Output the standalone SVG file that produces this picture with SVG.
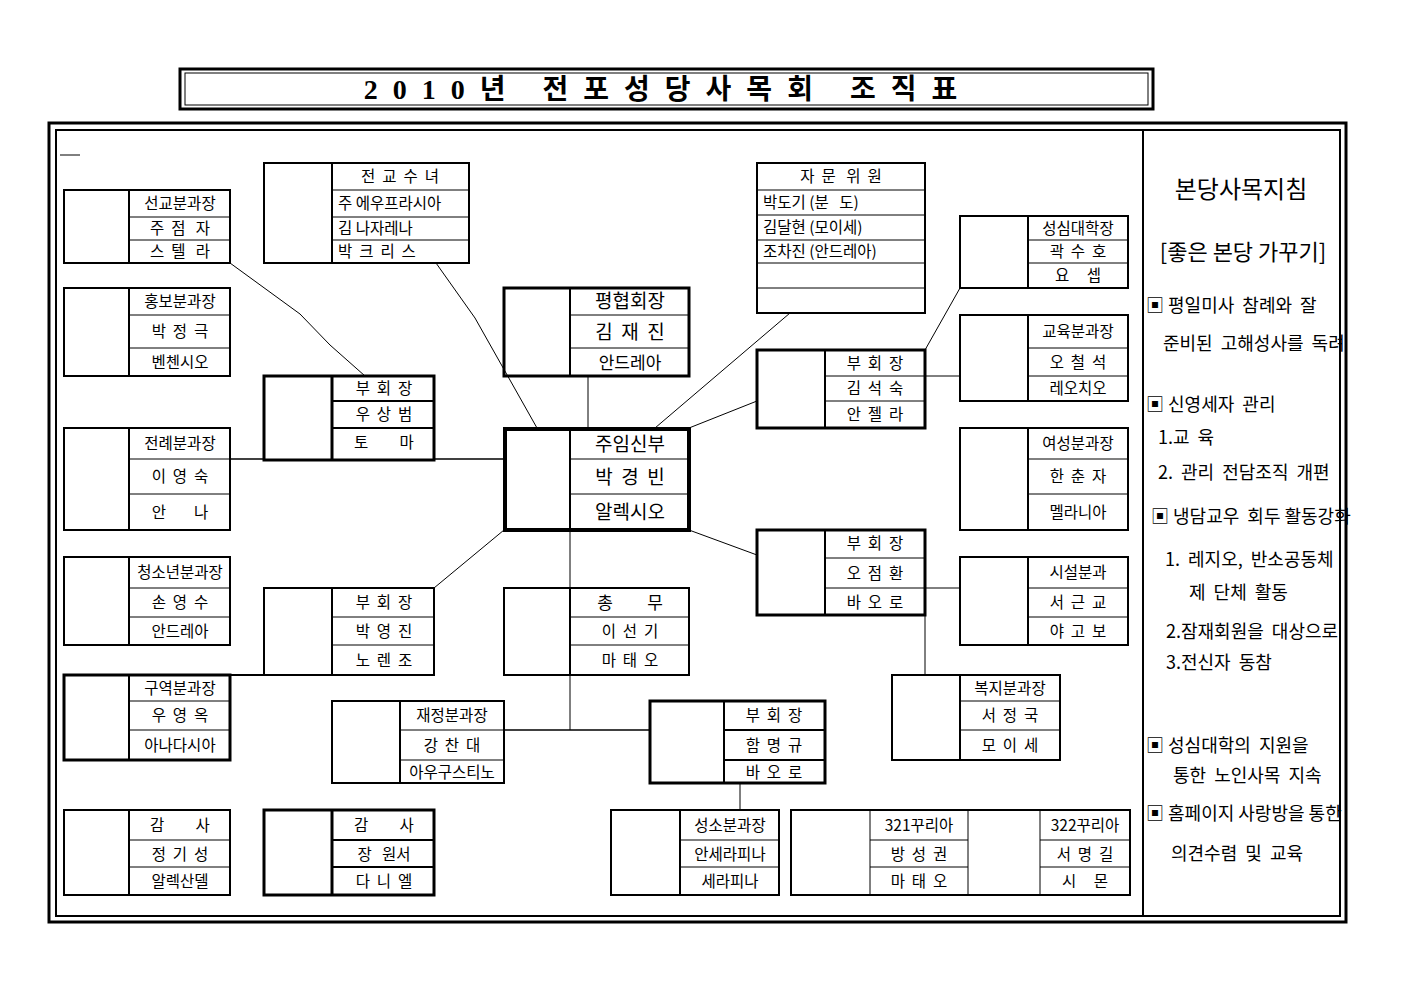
<svg xmlns="http://www.w3.org/2000/svg" width="1403" height="992" viewBox="0 0 1403 992">
<style>
rect,line,polyline{fill:none;stroke:#000}
.b{stroke-width:2}
.k{stroke-width:3}
.kk{stroke-width:4}
.r{stroke-width:1.5}
text{font-family:"Noto Sans CJK KR","Noto Sans",sans-serif;font-size:15.5px;fill:#000;text-anchor:middle;white-space:pre}
.l{text-anchor:start}
.big{font-size:19px}
.p{font-size:18px;text-anchor:start}
.c{stroke-width:1}
</style>
<rect width="1403" height="992" style="fill:#fff;stroke:none"/>
<g id="title">
<rect x="180" y="69" width="973" height="40" class="k"/>
<rect x="185" y="73" width="963" height="32" class="c"/>
<text x="668" y="99" style="font-size:28px;font-weight:bold;letter-spacing:15px;font-family:'Liberation Serif','Noto Sans CJK KR',serif">2010년 전포성당사목회 조직표</text>
</g>
<g id="frame">
<rect x="49" y="123" width="1297" height="799" class="k"/>
<rect x="56" y="130" width="1284" height="786" class="b"/>
<line x1="1143" y1="130" x2="1143" y2="916" class="b"/>
<line x1="60" y1="155" x2="80" y2="155" class="c"/>
</g>
<g id="connectors" class="c">
<polyline points="230,263 300,314 330,345 365,376" class="c"/>
<polyline points="436,263 475,318 537,428" class="c"/>
<line x1="790" y1="313" x2="655" y2="428" class="c"/>
<line x1="588" y1="376" x2="588" y2="428" class="c"/>
<line x1="434" y1="459" x2="504" y2="459" class="r"/>
<line x1="230" y1="459" x2="264" y2="459" class="r"/>
<line x1="757" y1="401" x2="689" y2="428" class="c"/>
<line x1="925" y1="350" x2="960" y2="288" class="c"/>
<line x1="925" y1="376" x2="960" y2="376" class="c"/>
<line x1="689" y1="530" x2="757" y2="555" class="c"/>
<line x1="504" y1="530" x2="434" y2="588" class="c"/>
<line x1="570" y1="530" x2="570" y2="588" class="c"/>
<line x1="570" y1="675" x2="570" y2="730" class="c"/>
<line x1="504" y1="730" x2="650" y2="730" class="r"/>
<line x1="925" y1="588" x2="960" y2="588" class="c"/>
<line x1="925" y1="615" x2="925" y2="675" class="c"/>
<line x1="230" y1="675" x2="264" y2="675" class="b"/>
<line x1="740" y1="783" x2="740" y2="810" class="c"/>
</g>
<g id="n-seongyo"><rect x="64" y="190" width="166" height="73" class="b"/><line x1="129" y1="190" x2="129" y2="263" class="b"/><line x1="129" y1="217" x2="230" y2="217" class="c"/><line x1="129" y1="240" x2="230" y2="240" class="c"/>
<text x="180" y="209">선교분과장</text><text x="180" y="234">주  점   자</text><text x="180" y="257">스  텔   라</text></g>
<g id="n-sunyeo"><rect x="264" y="163" width="205" height="100" class="b"/><line x1="332" y1="163" x2="332" y2="263" class="b"/><line x1="332" y1="190" x2="469" y2="190" class="c"/><line x1="332" y1="217" x2="469" y2="217" class="c"/><line x1="332" y1="240" x2="469" y2="240" class="c"/>
<text x="400" y="182">전  교  수  녀</text><text x="338" y="209" class="l">주 에우프라시아</text><text x="338" y="234" class="l">김 나자레나</text><text x="338" y="257" class="l">박  크  리  스</text></g>
<g id="n-jamun"><rect x="757" y="163" width="168" height="150" class="b"/><line x1="757" y1="190" x2="925" y2="190" class="c"/><line x1="757" y1="215" x2="925" y2="215" class="c"/><line x1="757" y1="240" x2="925" y2="240" class="c"/><line x1="757" y1="263" x2="925" y2="263" class="c"/><line x1="757" y1="288" x2="925" y2="288" class="c"/>
<text x="841" y="182">자  문   위  원</text><text x="763" y="208" class="l">박도기 (분   도)</text><text x="763" y="233" class="l">김달현 (모이세)</text><text x="763" y="257" class="l">조차진 (안드레아)</text></g>
<g id="n-seongsim"><rect x="960" y="216" width="168" height="72" class="b"/><line x1="1028" y1="216" x2="1028" y2="288" class="b"/><line x1="1028" y1="240" x2="1128" y2="240" class="c"/><line x1="1028" y1="263" x2="1128" y2="263" class="c"/>
<text x="1078" y="234">성심대학장</text><text x="1078" y="257">곽  수  호</text><text x="1078" y="281">요     셉</text></g>
<g id="n-hongbo"><rect x="64" y="288" width="166" height="88" class="b"/><line x1="129" y1="288" x2="129" y2="376" class="b"/><line x1="129" y1="315" x2="230" y2="315" class="c"/><line x1="129" y1="348" x2="230" y2="348" class="c"/>
<text x="180" y="307">홍보분과장</text><text x="180" y="337">박  정  극</text><text x="180" y="368">벤첸시오</text></g>
<g id="n-pyeonghyeop"><rect x="504" y="288" width="185" height="88" class="k"/><line x1="570" y1="288" x2="570" y2="376" class="b"/><line x1="570" y1="315" x2="689" y2="315" class="c"/><line x1="570" y1="348" x2="689" y2="348" class="c"/>
<text x="630" y="308" class="big">평협회장</text><text x="630" y="339" class="big">김  재  진</text><text x="630" y="369" style="font-size:17px">안드레아</text></g>
<g id="n-bu1"><rect x="264" y="376" width="170" height="84" class="k"/><line x1="332" y1="376" x2="332" y2="460" class="k"/><line x1="332" y1="401" x2="434" y2="401" class="b"/><line x1="332" y1="428" x2="434" y2="428" class="b"/>
<text x="384" y="394">부  회  장</text><text x="384" y="420">우  상  범</text><text x="384" y="448">토         마</text></g>
<g id="n-bu2"><rect x="757" y="350" width="168" height="78" class="k"/><line x1="825" y1="350" x2="825" y2="428" class="b"/><line x1="825" y1="376" x2="925" y2="376" class="c"/><line x1="825" y1="401" x2="925" y2="401" class="c"/>
<text x="875" y="369">부  회  장</text><text x="875" y="394">김  석  숙</text><text x="875" y="420">안  젤  라</text></g>
<g id="n-gyoyuk"><rect x="960" y="315" width="168" height="86" class="b"/><line x1="1028" y1="315" x2="1028" y2="401" class="b"/><line x1="1028" y1="348" x2="1128" y2="348" class="c"/><line x1="1028" y1="376" x2="1128" y2="376" class="c"/>
<text x="1078" y="337">교육분과장</text><text x="1078" y="368">오  철  석</text><text x="1078" y="394">레오치오</text></g>
<g id="n-jeollye"><rect x="64" y="428" width="166" height="102" class="b"/><line x1="129" y1="428" x2="129" y2="530" class="b"/><line x1="129" y1="459" x2="230" y2="459" class="c"/><line x1="129" y1="494" x2="230" y2="494" class="c"/>
<text x="180" y="449">전례분과장</text><text x="180" y="482">이  영  숙</text><text x="180" y="518">안        나</text></g>
<g id="n-jumin"><rect x="505" y="429" width="184" height="101" class="kk"/><line x1="570" y1="429" x2="570" y2="530" class="b"/><line x1="570" y1="459" x2="689" y2="459" class="c"/><line x1="570" y1="494" x2="689" y2="494" class="c"/>
<text x="630" y="451" class="big">주임신부</text><text x="630" y="484" class="big">박  경  빈</text><text x="630" y="519" class="big">알렉시오</text></g>
<g id="n-yeoseong"><rect x="960" y="428" width="168" height="102" class="b"/><line x1="1028" y1="428" x2="1028" y2="530" class="b"/><line x1="1028" y1="459" x2="1128" y2="459" class="c"/><line x1="1028" y1="494" x2="1128" y2="494" class="c"/>
<text x="1078" y="449">여성분과장</text><text x="1078" y="482">한  춘  자</text><text x="1078" y="518">멜라니아</text></g>
<g id="n-bu3"><rect x="757" y="530" width="168" height="85" class="k"/><line x1="825" y1="530" x2="825" y2="615" class="b"/><line x1="825" y1="558" x2="925" y2="558" class="c"/><line x1="825" y1="588" x2="925" y2="588" class="c"/>
<text x="875" y="549">부  회  장</text><text x="875" y="579">오  점  환</text><text x="875" y="608">바  오  로</text></g>
<g id="n-cheongsonyeon"><rect x="64" y="557" width="166" height="88" class="b"/><line x1="129" y1="557" x2="129" y2="645" class="b"/><line x1="129" y1="588" x2="230" y2="588" class="c"/><line x1="129" y1="617" x2="230" y2="617" class="c"/>
<text x="180" y="578">청소년분과장</text><text x="180" y="608">손  영  수</text><text x="180" y="637">안드레아</text></g>
<g id="n-bu4"><rect x="264" y="588" width="170" height="87" class="b"/><line x1="332" y1="588" x2="332" y2="675" class="b"/><line x1="332" y1="617" x2="434" y2="617" class="c"/><line x1="332" y1="645" x2="434" y2="645" class="c"/>
<text x="384" y="608">부  회  장</text><text x="384" y="637">박  영  진</text><text x="384" y="666">노  렌  조</text></g>
<g id="n-chongmu"><rect x="504" y="588" width="185" height="87" class="b"/><line x1="570" y1="588" x2="570" y2="675" class="b"/><line x1="570" y1="617" x2="689" y2="617" class="c"/><line x1="570" y1="645" x2="689" y2="645" class="c"/>
<text x="630" y="609" style="font-size:17px">총         무</text><text x="630" y="637">이  선  기</text><text x="630" y="666">마  태  오</text></g>
<g id="n-siseol"><rect x="960" y="557" width="168" height="88" class="b"/><line x1="1028" y1="557" x2="1028" y2="645" class="b"/><line x1="1028" y1="588" x2="1128" y2="588" class="c"/><line x1="1028" y1="617" x2="1128" y2="617" class="c"/>
<text x="1078" y="578">시설분과</text><text x="1078" y="608">서  근  교</text><text x="1078" y="637">야  고  보</text></g>
<g id="n-guyeok"><rect x="64" y="675" width="166" height="85" class="k"/><line x1="129" y1="675" x2="129" y2="760" class="b"/><line x1="129" y1="701" x2="230" y2="701" class="c"/><line x1="129" y1="730" x2="230" y2="730" class="c"/>
<text x="180" y="694">구역분과장</text><text x="180" y="721">우  영  옥</text><text x="180" y="751">아나다시아</text></g>
<g id="n-jaejeong"><rect x="332" y="701" width="172" height="82" class="b"/><line x1="400" y1="701" x2="400" y2="783" class="b"/><line x1="400" y1="730" x2="504" y2="730" class="c"/><line x1="400" y1="760" x2="504" y2="760" class="c"/>
<text x="452" y="721">재정분과장</text><text x="452" y="751">강  찬  대</text><text x="452" y="778">아우구스티노</text></g>
<g id="n-bu5"><rect x="650" y="701" width="175" height="82" class="k"/><line x1="724" y1="701" x2="724" y2="783" class="b"/><line x1="724" y1="730" x2="825" y2="730" class="b"/><line x1="724" y1="760" x2="825" y2="760" class="b"/>
<text x="774" y="721">부  회  장</text><text x="774" y="751">함  명  규</text><text x="774" y="778">바  오  로</text></g>
<g id="n-bokji"><rect x="892" y="675" width="168" height="85" class="b"/><line x1="960" y1="675" x2="960" y2="760" class="b"/><line x1="960" y1="701" x2="1060" y2="701" class="c"/><line x1="960" y1="730" x2="1060" y2="730" class="c"/>
<text x="1010" y="694">복지분과장</text><text x="1010" y="721">서  정  국</text><text x="1010" y="751">모  이  세</text></g>
<g id="n-gamsa1"><rect x="64" y="810" width="166" height="85" class="b"/><line x1="129" y1="810" x2="129" y2="895" class="b"/><line x1="129" y1="840" x2="230" y2="840" class="c"/><line x1="129" y1="867" x2="230" y2="867" class="c"/>
<text x="180" y="831">감         사</text><text x="180" y="860">정  기  성</text><text x="180" y="887">알렉산델</text></g>
<g id="n-gamsa2"><rect x="264" y="810" width="170" height="85" class="k"/><line x1="332" y1="810" x2="332" y2="895" class="k"/><line x1="332" y1="840" x2="434" y2="840" class="b"/><line x1="332" y1="867" x2="434" y2="867" class="b"/>
<text x="384" y="831">감         사</text><text x="384" y="860">장   원서</text><text x="384" y="887">다  니  엘</text></g>
<g id="n-seongso"><rect x="611" y="810" width="168" height="85" class="b"/><line x1="680" y1="810" x2="680" y2="895" class="b"/><line x1="680" y1="840" x2="779" y2="840" class="c"/><line x1="680" y1="867" x2="779" y2="867" class="c"/>
<text x="730" y="831">성소분과장</text><text x="730" y="860">안세라피나</text><text x="730" y="887">세라피나</text></g>
<g id="n-curia"><rect x="791" y="810" width="339" height="85" class="b"/><line x1="870" y1="810" x2="870" y2="895" class="c"/><line x1="968" y1="810" x2="968" y2="895" class="c"/><line x1="1040" y1="810" x2="1040" y2="895" class="c"/><line x1="870" y1="840" x2="968" y2="840" class="c"/><line x1="870" y1="867" x2="968" y2="867" class="c"/><line x1="1040" y1="840" x2="1130" y2="840" class="c"/><line x1="1040" y1="867" x2="1130" y2="867" class="c"/>
<text x="919" y="831">321꾸리아</text><text x="919" y="860">방  성  권</text><text x="919" y="887">마  태  오</text>
<text x="1085" y="831">322꾸리아</text><text x="1085" y="860">서  명  길</text><text x="1085" y="887">시     몬</text></g>
<g id="panel">
<text x="1241" y="198" style="font-size:24px">본당사목지침</text>
<text x="1243" y="260" style="font-size:22px">[좋은 본당 가꾸기]</text>
<text x="1146" y="312" class="p">▣ 평일미사  참례와  잘</text>
<text x="1163" y="350" class="p">준비된  고해성사를  독려</text>
<text x="1146" y="411" class="p">▣ 신영세자  관리</text>
<text x="1158" y="444" class="p">1.교  육</text>
<text x="1158" y="479" class="p">2.  관리  전담조직  개편</text>
<text x="1151" y="523" class="p">▣ 냉담교우  회두 활동강화</text>
<text x="1165" y="566" class="p">1.  레지오,  반소공동체</text>
<text x="1189" y="599" class="p">제  단체  활동</text>
<text x="1166" y="638" class="p">2.잠재회원을  대상으로</text>
<text x="1166" y="669" class="p">3.전신자  동참</text>
<text x="1146" y="752" class="p">▣ 성심대학의  지원을</text>
<text x="1173" y="782" class="p">통한  노인사목  지속</text>
<text x="1146" y="820" class="p">▣ 홈페이지 사랑방을 통한</text>
<text x="1171" y="860" class="p">의견수렴  및  교육</text>
</g>
</svg>
